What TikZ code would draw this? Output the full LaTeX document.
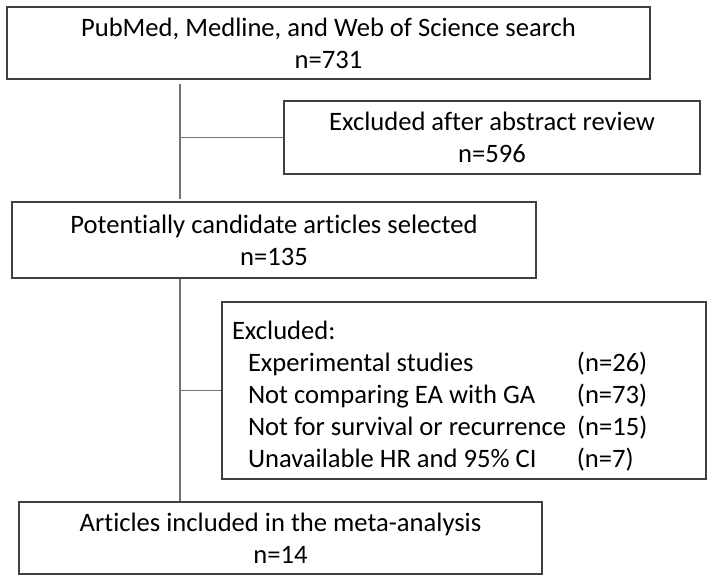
\documentclass[tikz,border=0pt]{standalone}
\usepackage{fontspec}
\setmainfont[Ligatures=NoCommon]{Carlito}
\begin{document}
\begin{tikzpicture}[x=1pt, y=-1pt,
    box/.style={draw=black!75, line width=1.2pt, rectangle, inner sep=0pt, align=center,
      font=\fontsize{26.6}{32}\selectfont, execute at begin node={\rule{0pt}{25pt}}},
    link/.style={draw=black!55, line width=1.2pt}]
  \useasboundingbox (0,0) rectangle (713,581);

  % Boxes of the flow
  \node[box, minimum width=643pt, minimum height=72pt] (search) at (328.5, 43) {PubMed, Medline, and Web of Science search\\n=731};
  \node[box, minimum width=416pt, minimum height=73pt] (abstract) at (492, 137.5) {Excluded after abstract review\\n=596};
  \node[box, minimum width=524pt, minimum height=76pt] (candidate) at (274, 240) {Potentially candidate articles selected\\n=135};
  \node[box, minimum width=523pt, minimum height=72pt] (included) at (280.5, 538) {Articles included in the meta-analysis\\n=14};

  % Exclusion list
  \node[box, align=flush left, text width=464pt, inner xsep=10pt, minimum height=177pt,
    execute at begin node={\rule{0pt}{29pt}}] (excluded) at (464, 390.5) {Excluded:\\
    \hspace*{16pt}\makebox[329pt][l]{Experimental studies}(n=26)\\
    \hspace*{16pt}\makebox[329pt][l]{Not comparing EA with GA}(n=73)\\
    \hspace*{16pt}\makebox[329pt][l]{Not for survival or recurrence}(n=15)\\
    \hspace*{16pt}\makebox[329pt][l]{Unavailable HR and 95\% CI}(n=7)};

  % Connectors
  \coordinate (trunk) at (180, 0);
  \draw[link, shorten <=4pt, shorten >=2pt] (search.south -| trunk) -- (candidate.north -| trunk);
  \draw[link] (abstract.west -| trunk) -- (abstract.west);
  \draw[link] (candidate.south -| trunk) -- (included.north -| trunk);
  \draw[link] (excluded.west -| trunk) -- (excluded.west);
\end{tikzpicture}
\end{document}
